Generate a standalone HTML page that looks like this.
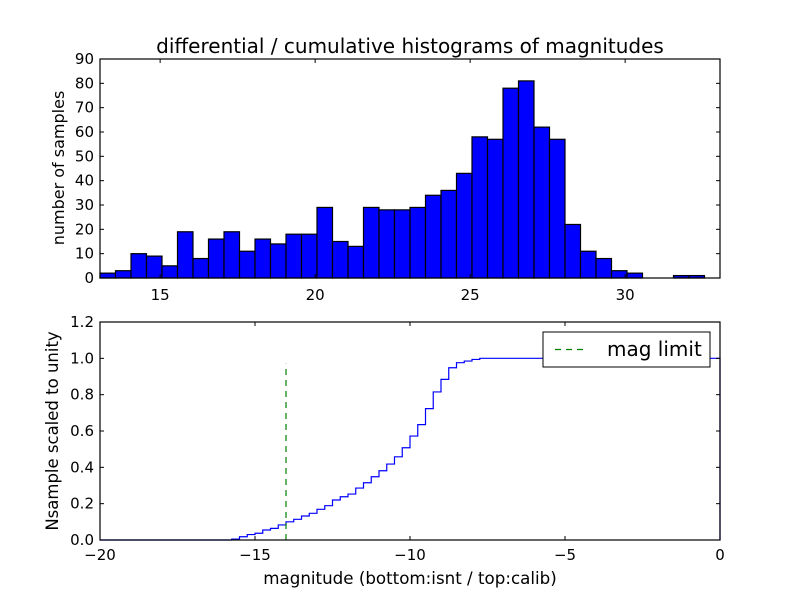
<!DOCTYPE html>
<html><head><meta charset="utf-8"><style>
body{margin:0;background:#fff;}
svg text{font-family:"DejaVu Sans","Liberation Sans",sans-serif;fill:#000;}
</style></head><body>
<svg id="c" width="800" height="600" viewBox="0 0 800 600"></svg>
<script>
const histCounts=[2,3,10,9,5,19,8,16,19,11,16,14,18,18,29,15,13,29,28,28,29,34,36,43,58,57,78,81,62,57,22,11,8,3,2,0,0,1,1,0];
const histStart=13.06, histBinWidth=0.5;
const topYTicks=[0,10,20,30,40,50,60,70,80,90];
const topXTicks=[15,20,25,30];
const cdfStart=-15.75, cdfStep=0.25;
const cdfValues=[0.005,0.018,0.03,0.037,0.055,0.064,0.083,0.10,0.114,0.132,0.147,0.169,0.189,0.22,0.238,0.253,0.286,0.315,0.348,0.381,0.418,0.458,0.508,0.572,0.635,0.723,0.815,0.884,0.948,0.976,0.985,0.994,1.0];
const magLimit=-14, magLimitTop=0.97;
const botYTicks=[0.0,0.2,0.4,0.6,0.8,1.0,1.2];
const botXTicks=[-20,-15,-10,-5,0];

const NS="http://www.w3.org/2000/svg", svg=document.getElementById('c');
function el(t,a,p){const e=document.createElementNS(NS,t);for(const k in a)e.setAttribute(k,a[k]);(p||svg).appendChild(e);return e;}
function txt(s,a,p){const e=el('text',a,p);e.textContent=s;return e;}

const L=100,R=720,T1=59,B1=278;
const tx=v=>L+(v-13.06)/(33.06-13.06)*(R-L);
const ty=v=>B1-v/90*(B1-T1);
const g1=el('g',{});


histCounts.forEach((c,i)=>{
  const x0=tx(histStart+i*histBinWidth),x1=tx(histStart+(i+1)*histBinWidth);
  if(c<=0)return;
  const r=el('rect',{x:x0,y:ty(c),width:x1-x0,height:ty(0)-ty(c),fill:'#0000ff',stroke:'#000','stroke-width':1.2},g1);
  
  
});
const f1=el('rect',{x:L,y:T1,width:R-L,height:B1-T1,fill:'none',stroke:'#000','stroke-width':1.2},g1);


topYTicks.forEach(v=>{const y=ty(v);
  el('line',{x1:L,y1:y,x2:L+4,y2:y,stroke:'#000'},g1);el('line',{x1:R,y1:y,x2:R-4,y2:y,stroke:'#000'},g1);
  const t=txt(String(v),{x:L-6,y:y+5,'font-size':15,'text-anchor':'end'},g1);
  
  
});
topXTicks.forEach(v=>{const x=tx(v);
  el('line',{x1:x,y1:B1,x2:x,y2:B1-4,stroke:'#000'},g1);el('line',{x1:x,y1:T1,x2:x,y2:T1+4,stroke:'#000'},g1);
  const t=txt(String(v),{x:x,y:B1+22,'font-size':15,'text-anchor':'middle'},g1);
  
  
});
const tt=txt('differential / cumulative histograms of magnitudes',{x:410,y:53,'font-size':20,'text-anchor':'middle'},g1);


const yl1=txt('number of samples',{x:0,y:0,'font-size':16,'text-anchor':'middle',transform:'translate(64,168) rotate(-90)'},g1);



const T2=322,B2=540;
const bx=v=>L+(v+20)/20*(R-L);
const by=v=>B2-v/1.2*(B2-T2);
const g2=el('g',{});


let d='M'+bx(-20)+','+by(0)+' L'+bx(cdfStart)+','+by(0);
cdfValues.forEach((v,i)=>{const x0=bx(cdfStart+i*cdfStep),x1=bx(cdfStart+(i+1)*cdfStep);d+=' L'+x0+','+by(v)+' L'+x1+','+by(v);});
d+=' L'+bx(0)+','+by(cdfValues[cdfValues.length-1])+' L'+bx(0)+','+by(0);
const line=el('path',{d:d,fill:'none',stroke:'#0000ff','stroke-width':1.2},g2);


const ml=el('line',{x1:bx(magLimit),y1:by(0),x2:bx(magLimit),y2:by(magLimitTop),stroke:'#008000','stroke-width':1.2,'stroke-dasharray':'6,5'},g2);


const f2=el('rect',{x:L,y:T2,width:R-L,height:B2-T2,fill:'none',stroke:'#000','stroke-width':1.2},g2);


botYTicks.forEach(v=>{const y=by(v);
  el('line',{x1:L,y1:y,x2:L+4,y2:y,stroke:'#000'},g2);el('line',{x1:R,y1:y,x2:R-4,y2:y,stroke:'#000'},g2);
  const t=txt(v.toFixed(1),{x:L-6,y:y+5,'font-size':15,'text-anchor':'end'},g2);
  
  
});
botXTicks.forEach(v=>{const x=bx(v);
  el('line',{x1:x,y1:B2,x2:x,y2:B2-4,stroke:'#000'},g2);el('line',{x1:x,y1:T2,x2:x,y2:T2+4,stroke:'#000'},g2);
  const t=txt(v<0?'\u2212'+Math.abs(v):String(v),{x:x,y:B2+20,'font-size':15,'text-anchor':'middle'},g2);
  
  
});
const xl=txt('magnitude (bottom:isnt / top:calib)',{x:410,y:584,'font-size':16.7,'text-anchor':'middle'},g2);


const yl2=txt('Nsample scaled to unity',{x:0,y:0,'font-size':16.5,'text-anchor':'middle',transform:'translate(58,431) rotate(-90)'},g2);


const lg=el('g',{},g2);


el('rect',{x:543,y:332,width:167,height:35,fill:'#fff',stroke:'#000','stroke-width':1},lg);
el('line',{x1:555,y1:349.5,x2:583,y2:349.5,stroke:'#008000','stroke-width':1.2,'stroke-dasharray':'6,5'},lg);
const lt=txt('mag limit',{x:607,y:356,'font-size':20},lg);


</script>
</body></html>
